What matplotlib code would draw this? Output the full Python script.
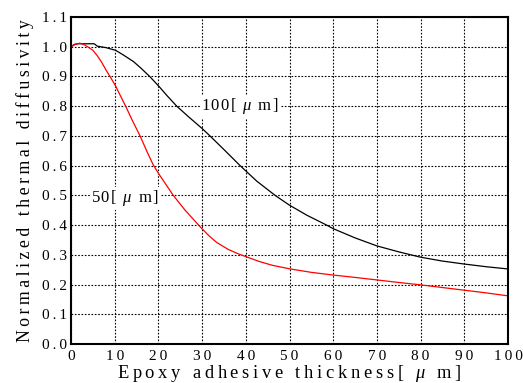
import matplotlib
matplotlib.use("Agg")
import matplotlib.pyplot as plt

x_100 = [0, 0.8, 1.6, 3, 4, 5.3, 6, 8, 10.2, 12, 14.3, 16, 18, 20.1, 22, 24.2, 27, 30, 31.8, 35, 38.7, 42.5, 46.7, 50, 54, 58.5, 60, 65, 70, 75, 80, 85, 90, 95, 100]
y_100 = [1.0, 1.008, 1.01, 1.01, 1.01, 1.01, 1.002, 0.997, 0.988, 0.972, 0.95, 0.928, 0.90, 0.867, 0.835, 0.80, 0.763, 0.725, 0.70, 0.654, 0.60, 0.548, 0.50, 0.467, 0.433, 0.40, 0.388, 0.357, 0.33, 0.31, 0.292, 0.279, 0.269, 0.26, 0.2525]
x_50 = [0, 1, 2, 3, 4, 5, 6, 7, 8, 9, 10.2, 11.3, 12.5, 14, 15.8, 17.3, 18.8, 20.1, 21.7, 23.4, 26, 29.5, 31.5, 33.3, 36, 38.5, 40.2, 43, 46, 50, 55, 60, 65, 70, 75, 80, 85, 90, 95, 100]
y_50 = [1.0, 1.008, 1.012, 1.007, 0.998, 0.988, 0.97, 0.948, 0.922, 0.898, 0.868, 0.835, 0.80, 0.753, 0.70, 0.65, 0.603, 0.572, 0.537, 0.50, 0.452, 0.395, 0.365, 0.342, 0.318, 0.302, 0.293, 0.278, 0.265, 0.253, 0.241, 0.232, 0.224, 0.2155, 0.207, 0.199, 0.19, 0.181, 0.172, 0.162]

xticks = [0, 10, 20, 30, 40, 50, 60, 70, 80, 90, 100]
yticks = [0.0, 0.1, 0.2, 0.3, 0.4, 0.5, 0.6, 0.7, 0.8, 0.9, 1.0, 1.1]

plt.rcParams['font.family'] = ['Liberation Serif', 'DejaVu Serif']
plt.rcParams['mathtext.fontset'] = 'custom'
plt.rcParams['mathtext.rm'] = 'Liberation Serif'
plt.rcParams['mathtext.it'] = 'Liberation Serif:italic'

THIN = "\u2009"
HAIR = "\u200a"
MU = r"$\mu$"


def spaced(s, sp):
    return sp.join(s)


def unit_label(prefix, sp):
    # prefix + "[ μ m]" with letter spacing, μ rendered italic
    return spaced(prefix + "[ ", sp) + sp + MU + sp + spaced(" m]", sp)


fig = plt.figure(figsize=(5.23, 3.83), dpi=100)
ax = fig.add_axes([0.1358, 0.1018, 0.8355, 0.8538])

ax.plot(x_100, y_100, color='black', lw=0.9)
ax.plot(x_50, y_50, color='red', lw=0.9)

ax.set_xlim(0, 100)
ax.set_ylim(0, 1.1)
ax.set_xticks(xticks)
ax.set_yticks(yticks)
ax.set_xticklabels([spaced(str(t), THIN) for t in xticks])
ax.set_yticklabels([spaced(f"{t:.1f}", THIN) for t in yticks])
ax.tick_params(length=0, labelsize=11, pad=3)
ax.tick_params(axis='x', pad=4)
ax.grid(True, color='black', linestyle=(0, (1.5, 1.5)), lw=0.8)
for s in ax.spines.values():
    s.set_linewidth(1.5)

bbox = dict(facecolor='white', edgecolor='none', pad=1)
ax.text(38.7, 0.80, unit_label("100", HAIR), fontsize=12, ha='center', va='center', bbox=bbox, zorder=5)
ax.text(12.4, 0.49, unit_label("50", HAIR), fontsize=12, ha='center', va='center', bbox=bbox, zorder=5)

ax.set_xlabel(unit_label("Epoxy adhesive thickness", THIN), fontsize=13.3, labelpad=0)
ax.set_ylabel(spaced("Normalized thermal diffusivity", THIN), fontsize=12.8, labelpad=6)

fig.savefig("out.png", dpi=100)
